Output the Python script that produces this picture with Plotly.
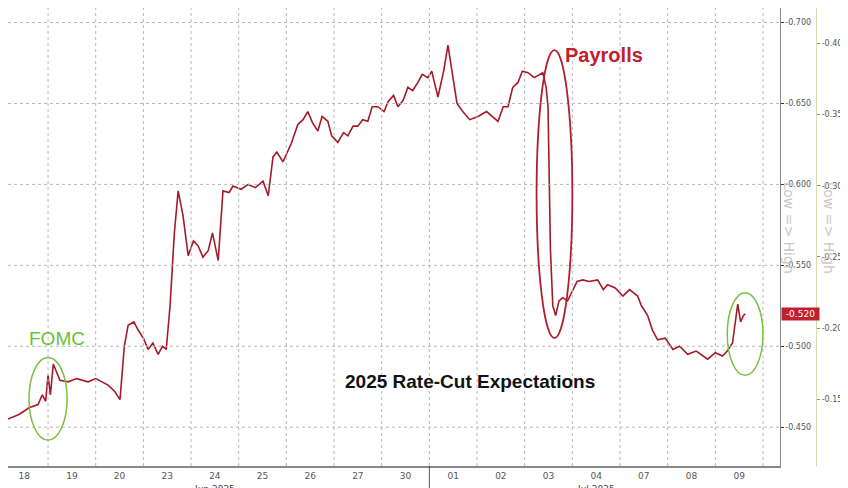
import plotly.graph_objects as go

day_labels = ["18", "19", "20", "23", "24", "25", "26", "27", "30",
              "01", "02", "03", "04", "07", "08", "09"]

# position in trading days (0 = Jun 18) and value of the series
pos = [-0.34, -0.1, 0.1, 0.29, 0.38, 0.45, 0.5, 0.55, 0.61, 0.75, 0.92, 1.1, 1.34, 1.5, 1.76, 1.9, 2.01,
       2.1, 2.18, 2.3, 2.39, 2.5, 2.6, 2.7, 2.81, 2.9, 2.98, 3.06, 3.15, 3.23, 3.33, 3.44, 3.55, 3.65,
       3.75, 3.86, 3.95, 4.07, 4.17, 4.3, 4.38, 4.55, 4.7, 4.85, 5.01, 5.12, 5.22, 5.3, 5.43, 5.6, 5.74,
       5.85, 5.95, 6.05, 6.16, 6.25, 6.37, 6.45, 6.58, 6.7, 6.79, 6.9, 7.0, 7.1, 7.21, 7.3, 7.42, 7.55,
       7.63, 7.75, 7.84, 7.95, 8.05, 8.15, 8.26, 8.35, 8.47, 8.55, 8.68, 8.8, 8.89, 8.99, 9.08, 9.2,
       9.35, 9.52, 9.7, 9.94, 10.05, 10.15, 10.25, 10.36, 10.45, 10.57, 10.7, 10.88, 10.95, 10.99,
       11.04, 11.09, 11.15, 11.22, 11.3, 11.4, 11.51, 11.6, 11.72, 11.85, 12.03, 12.15, 12.24, 12.4,
       12.56, 12.7, 12.87, 12.95, 13.08, 13.18, 13.29, 13.45, 13.61, 13.75, 13.92, 14.1, 14.34, 14.5,
       14.65, 14.75, 14.86, 14.97, 15.03, 15.09, 15.13, 15.18, 15.22]
value = [-0.455, -0.458, -0.462, -0.464, -0.470, -0.466, -0.482, -0.470, -0.489, -0.479, -0.478, -0.480,
         -0.478, -0.480, -0.476, -0.472, -0.467, -0.500, -0.513, -0.515, -0.510, -0.505, -0.498, -0.502,
         -0.495, -0.500, -0.498, -0.525, -0.570, -0.596, -0.581, -0.556, -0.565, -0.562, -0.555, -0.559,
         -0.570, -0.553, -0.596, -0.595, -0.599, -0.597, -0.600, -0.598, -0.602, -0.593, -0.617, -0.620,
         -0.614, -0.625, -0.637, -0.640, -0.645, -0.638, -0.633, -0.642, -0.639, -0.630, -0.626, -0.632,
         -0.630, -0.636, -0.636, -0.640, -0.639, -0.648, -0.648, -0.645, -0.651, -0.655, -0.648, -0.652,
         -0.660, -0.658, -0.663, -0.668, -0.666, -0.670, -0.654, -0.670, -0.686, -0.666, -0.650, -0.645,
         -0.640, -0.642, -0.645, -0.639, -0.648, -0.648, -0.660, -0.663, -0.670, -0.669, -0.666, -0.669,
         -0.660, -0.648, -0.560, -0.525, -0.519, -0.528, -0.530, -0.528, -0.535, -0.540, -0.541, -0.540,
         -0.541, -0.535, -0.538, -0.536, -0.531, -0.535, -0.531, -0.525, -0.519, -0.510, -0.504, -0.505,
         -0.498, -0.500, -0.495, -0.497, -0.492, -0.496, -0.494, -0.497, -0.502, -0.526, -0.515, -0.519,
         -0.520]

left_ticks = [-0.700, -0.650, -0.600, -0.550, -0.500, -0.450]
right_ticks = [-0.400, -0.350, -0.300, -0.250, -0.200, -0.150]

fig = go.Figure()
fig.add_trace(go.Scatter(x=pos, y=value, mode="lines", line=dict(color="#a31b2a", width=1.6),
                         hoverinfo="skip"))
# invisible trace for the second axis
fig.add_trace(go.Scatter(x=[0], y=[-0.3], yaxis="y2", mode="markers", marker=dict(opacity=0),
                         hoverinfo="skip"))

grid = "#b8b8b8"
shapes = []
for i in range(len(day_labels)):
    shapes.append(dict(type="line", xref="x", yref="paper", x0=i + 0.5, x1=i + 0.5, y0=0, y1=1,
                       line=dict(color=grid, width=1, dash="dot")))
for t in left_ticks:
    shapes.append(dict(type="line", xref="paper", yref="y", x0=0, x1=0.91, y0=t, y1=t,
                       line=dict(color=grid, width=1, dash="dot")))
# month separator
shapes.append(dict(type="line", xref="x", yref="paper", x0=8.5, x1=8.5, y0=-0.055, y1=0,
                   line=dict(color="#555", width=1)))
# ellipses
shapes.append(dict(type="circle", xref="x", yref="y", x0=0.1, x1=0.9, y0=-0.493, y1=-0.442,
                   line=dict(color="#7ac142", width=1.5)))
shapes.append(dict(type="circle", xref="x", yref="y", x0=10.75, x1=11.5, y0=-0.683, y1=-0.505,
                   line=dict(color="#b01f2e", width=1.8)))
shapes.append(dict(type="circle", xref="x", yref="y", x0=14.75, x1=15.5, y0=-0.533, y1=-0.482,
                   line=dict(color="#7ac142", width=1.5)))

annotations = [
    dict(x=0.05, y=-0.505, xref="x", yref="y", text="FOMC", showarrow=False,
         font=dict(size=19, color="#6abf3a", family="Liberation Sans"), xanchor="left"),
    dict(x=11.3, y=-0.680, xref="x", yref="y", text="<b>Payrolls</b>", showarrow=False,
         font=dict(size=20, color="#c0202e", family="Liberation Sans"), xanchor="left"),
    dict(x=9.35, y=-0.478, xref="x", yref="y", text="<b>2025 Rate-Cut Expectations</b>",
         showarrow=False, font=dict(size=19, color="#111", family="Liberation Sans")),
    dict(x=4.0, y=-0.035, xref="x", yref="paper", text="Jun 2025", showarrow=False, yanchor="top",
         font=dict(size=9, color="#444")),
    dict(x=12.0, y=-0.035, xref="x", yref="paper", text="Jul 2025", showarrow=False, yanchor="top",
         font=dict(size=9, color="#444")),
    dict(x=0.933, y=0.52, xref="paper", yref="paper", text="Low => High", textangle=90,
         showarrow=False, font=dict(size=14, color="#c8c8c8")),
    dict(x=0.98, y=0.52, xref="paper", yref="paper", text="Low => High", textangle=90,
         showarrow=False, font=dict(size=14, color="#c8c8c8")),
    dict(x=0.911, y=-0.520, xref="paper", yref="y", text=" -0.520 ", showarrow=False,
         xanchor="left", bgcolor="#c0202e", font=dict(size=9, color="white")),
]

fig.update_layout(
    width=848, height=488, margin=dict(l=0, r=0, t=0, b=30),
    paper_bgcolor="white", plot_bgcolor="white", showlegend=False,
    font=dict(family="DejaVu Sans", size=9, color="#555"),
    shapes=shapes, annotations=annotations,
    xaxis=dict(range=[-0.34, 15.85], tickvals=list(range(len(day_labels))), ticktext=day_labels,
               showgrid=False, zeroline=False, showline=True, linecolor="#888", linewidth=1.5,
               ticks="", domain=[0, 0.91]),
    yaxis=dict(range=[-0.426, -0.709], side="right", tickvals=left_ticks,
               ticktext=["%.3f" % t for t in left_ticks], showgrid=False, zeroline=False,
               showline=True, linecolor="#888", ticks="outside", ticklen=3, tickcolor="#333",
               tickfont=dict(size=8)),
    yaxis2=dict(range=[-0.103, -0.425], overlaying="y", side="right", anchor="free",
                position=0.953, tickvals=right_ticks, ticktext=["%.3f" % t for t in right_ticks],
                showgrid=False, zeroline=False, showline=True, linecolor="#dcdcb0",
                ticks="outside", ticklen=3, tickcolor="#6a6", tickfont=dict(size=8)),
)

fig.write_html("out.html")
